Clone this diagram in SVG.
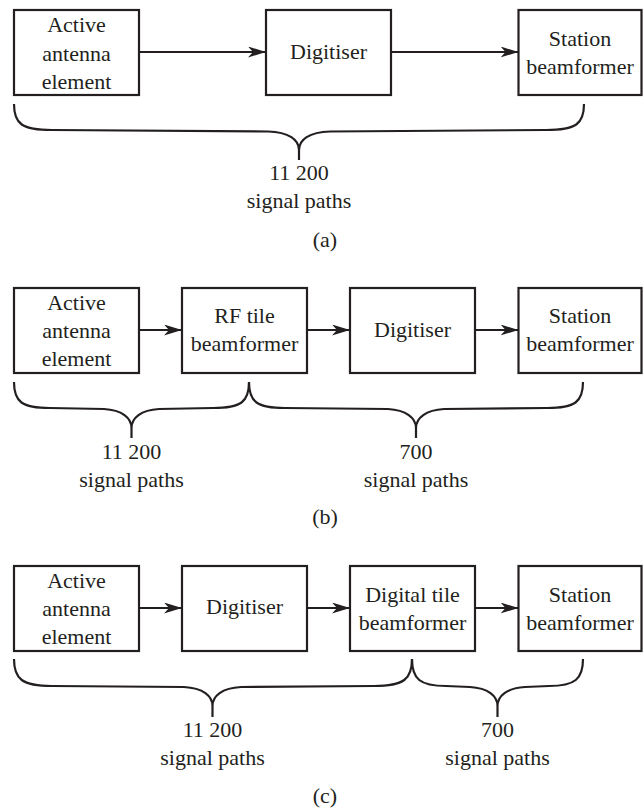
<svg xmlns="http://www.w3.org/2000/svg" width="644" height="810" viewBox="0 0 644 810">
<style>
.box{fill:#fff;stroke:#231f20;stroke-width:2.2}
.t{font-family:"Liberation Serif","Times New Roman",serif;font-size:22px;fill:#231f20;text-anchor:middle}
.arr{stroke:#231f20;stroke-width:2.2;fill:none;marker-end:url(#ah)}
.br{stroke:#231f20;stroke-width:2.2;fill:none}
</style>
<defs>
<marker id="ah" markerUnits="userSpaceOnUse" markerWidth="20" markerHeight="12" refX="18" refY="5.5" orient="auto">
<path d="M0,0 L18,5.5 L0,11 L5,5.5 z" fill="#231f20"/>
</marker>
</defs>
<rect width="644" height="810" fill="#fff"/>

<!-- Panel (a) -->
<g id="a-active"><rect class="box" x="14" y="10" width="125" height="85"/>
<text class="t" x="76.5" y="32">Active</text><text class="t" x="76.5" y="60.5">antenna</text><text class="t" x="76.5" y="88.5">element</text></g>
<g id="a-digitiser"><rect class="box" x="266" y="10" width="125" height="85"/>
<text class="t" x="328.5" y="59">Digitiser</text></g>
<g id="a-station"><rect class="box" x="518.5" y="10" width="123" height="85"/>
<text class="t" x="580" y="45.5">Station</text><text class="t" x="580" y="73.5">beamformer</text></g>
<g id="a-label"><text class="t" x="299" y="180">11 200</text><text class="t" x="299" y="208">signal paths</text><text class="t" x="325" y="247">(a)</text></g>

<!-- Panel (b) -->
<g id="b-active"><rect class="box" x="14" y="288" width="125" height="85"/>
<text class="t" x="76.5" y="310">Active</text><text class="t" x="76.5" y="338">antenna</text><text class="t" x="76.5" y="366">element</text></g>
<g id="b-rftile"><rect class="box" x="182" y="288" width="125" height="85"/>
<text class="t" x="244.5" y="323">RF tile</text><text class="t" x="244.5" y="351">beamformer</text></g>
<g id="b-digitiser"><rect class="box" x="350" y="288" width="125" height="85"/>
<text class="t" x="412.5" y="337">Digitiser</text></g>
<g id="b-station"><rect class="box" x="518.5" y="288" width="123" height="85"/>
<text class="t" x="580" y="323">Station</text><text class="t" x="580" y="351">beamformer</text></g>
<g id="b-label"><text class="t" x="131.5" y="459">11 200</text><text class="t" x="131.5" y="487">signal paths</text>
<text class="t" x="416" y="459">700</text><text class="t" x="416" y="487">signal paths</text><text class="t" x="325" y="524">(b)</text></g>

<!-- Panel (c) -->
<g id="c-active"><rect class="box" x="14" y="566" width="125" height="85"/>
<text class="t" x="76.5" y="588">Active</text><text class="t" x="76.5" y="616">antenna</text><text class="t" x="76.5" y="644">element</text></g>
<g id="c-digitiser"><rect class="box" x="182" y="566" width="125" height="85"/>
<text class="t" x="244.5" y="614">Digitiser</text></g>
<g id="c-digitaltile"><rect class="box" x="350" y="566" width="125" height="85"/>
<text class="t" x="412.5" y="602">Digital tile</text><text class="t" x="412.5" y="630">beamformer</text></g>
<g id="c-station"><rect class="box" x="518.5" y="566" width="123" height="85"/>
<text class="t" x="580" y="602">Station</text><text class="t" x="580" y="630">beamformer</text></g>
<g id="c-label"><text class="t" x="212.5" y="737">11 200</text><text class="t" x="212.5" y="765">signal paths</text>
<text class="t" x="497.5" y="737">700</text><text class="t" x="497.5" y="765">signal paths</text><text class="t" x="325" y="803">(c)</text></g>

<g id="connectors">
<line class="arr" x1="139" y1="52" x2="266" y2="52"/>
<line class="arr" x1="391" y1="52" x2="518.5" y2="52"/>
<line class="arr" x1="139" y1="330" x2="182" y2="330"/>
<line class="arr" x1="307" y1="330" x2="350" y2="330"/>
<line class="arr" x1="475" y1="330" x2="518.5" y2="330"/>
<line class="arr" x1="139" y1="608" x2="182" y2="608"/>
<line class="arr" x1="307" y1="608" x2="350" y2="608"/>
<line class="arr" x1="475" y1="608" x2="518.5" y2="608"/>

<path class="br" d="M14,104 C14,124 22,130 52,130 L268,131.5 C289,132 299,140 299,150 L299,160 M584,104 C584,124 576,130 546,130 L330,131.5 C309,132 299,140 299,150"/>
<path class="br" d="M14,382 C14,402 22,408 50,408 L104,409 C122,410 131.5,418 131.5,428 L131.5,438 M249,382 C249,402 241,408 213,408 L159,409 C141,410 131.5,418 131.5,428"/>
<path class="br" d="M249,382 C249,402 257,408 285,408 L388,409 C406,410 416,418 416,428 L416,438 M583,382 C583,402 575,408 547,408 L444,409 C426,410 416,418 416,428"/>
<path class="br" d="M14,659 C14,679 22,686 52,686 L184,687 C203,688 212.5,696 212.5,706 L212.5,717 M412,659 C412,679 404,686 374,686 L241,687 C222,688 212.5,696 212.5,706"/>
<path class="br" d="M412,659 C412,679 420,686 446,686 L470,687 C488,688 497.5,696 497.5,706 L497.5,717 M583,659 C583,679 575,686 549,686 L525,687 C507,688 497.5,696 497.5,706"/>
</g>
</svg>
